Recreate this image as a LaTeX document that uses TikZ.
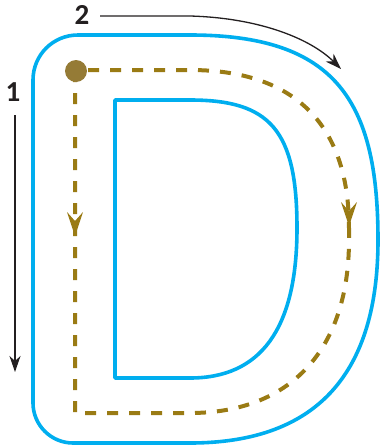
\documentclass[tikz,border=0pt]{standalone}
\usepackage{fontspec}
\setmainfont{Carlito}
\usetikzlibrary{arrows.meta}
\definecolor{dblue}{HTML}{00AEEF}
\definecolor{olive}{HTML}{9A7B14}
\definecolor{dotc}{HTML}{957B36}
\definecolor{ink}{HTML}{231F20}
\tikzset{
  outline/.style={draw=dblue,line width=3.6pt,line join=round},
  route/.style={draw=olive,line width=4pt,dash pattern=on 11pt off 11pt},
  routetip/.style={fill=olive},
  guide/.style={draw=ink,line width=1.3pt,-{Stealth[length=16pt,width=11pt,inset=5pt]}},
  num/.style={font=\bfseries\fontsize{29}{29}\selectfont,text=ink,inner sep=0pt}
}
\begin{document}
\begin{tikzpicture}[x=1pt,y=-1pt]
\useasboundingbox (0,0) rectangle (382,448);
% outer D
\draw[outline] (33,80) .. controls (33,55) and (53,35) .. (78,35) -- (190,35)
  .. controls (335,35) and (378,100) .. (378,240)
  .. controls (378,370) and (320,443) .. (190,443) -- (73,443)
  .. controls (51,443) and (33,425) .. (33,403) -- cycle;
% inner hole
\draw[outline] (115,100) -- (190,100) .. controls (270,100) and (297,130) .. (297,228)
  .. controls (297,330) and (260,378) .. (190,378) -- (115,378) -- cycle;
% route
\coordinate (start) at (76,71);
\coordinate (corner) at (75,413);
\draw[route] (75,71) -- (corner) -- (190,413)
  .. controls (290,413) and (349,350) .. (349,240) -- (349,228);
\draw[route] (88,70) -- (190,70) .. controls (290,70) and (349,120) .. (349,228);
\fill[routetip] (75,236) -- (67,212) -- (75,221) -- (83,212) -- cycle;
\fill[routetip] (349,226) -- (341,202) -- (349,211) -- (357,202) -- cycle;
\node[circle,fill=dotc,minimum size=22pt,inner sep=0pt] (dot) at (start) {};
% guide arrows
\coordinate (a1s) at (15,115);
\coordinate (a1e) at (15,372);
\draw[guide] (a1s) -- (a1e);
\node[num] (n1) at (13,92) {1};
\node[num] (n2) at (82,15) {2};
\coordinate (a2s) at (100,16);
\coordinate (a2e) at (341,69);
\draw[guide] (a2s) -- (190,16) .. controls (262,18) and (312,40) .. (a2e);
\end{tikzpicture}
\end{document}
